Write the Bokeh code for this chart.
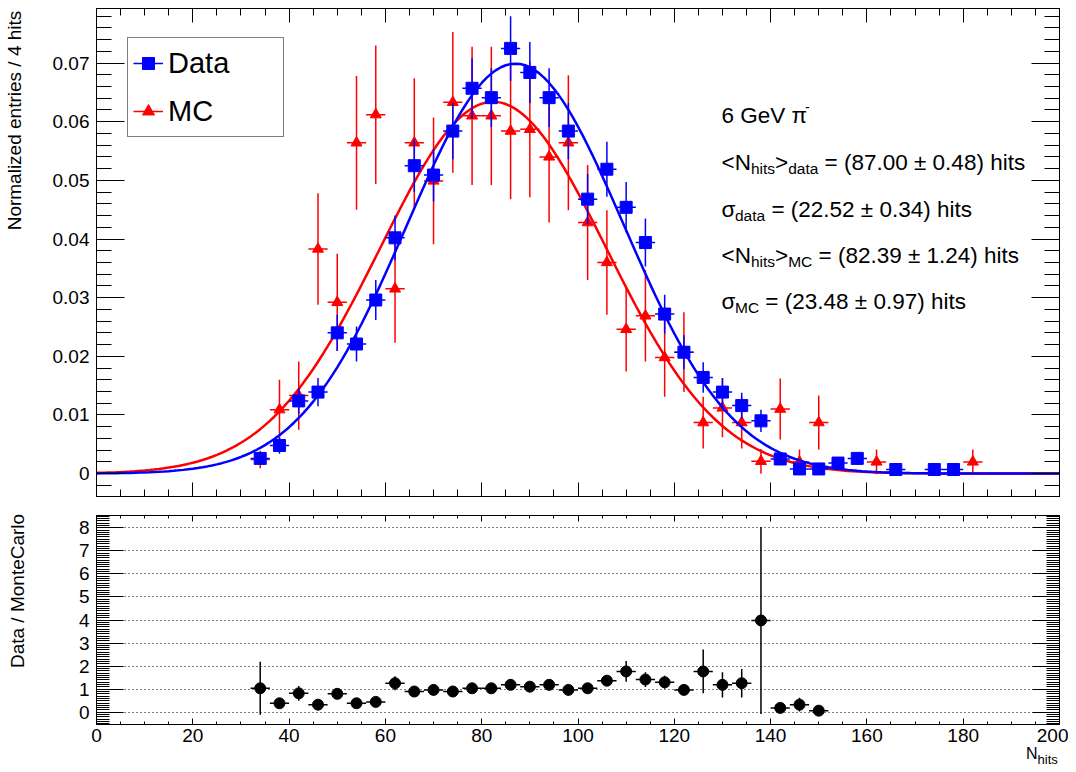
import numpy as np
from bokeh.plotting import figure
from bokeh.layouts import column
from bokeh.models import (Range1d, LinearAxis, SingleIntervalTicker, Label, Legend, Div,
                          LegendItem, ColumnDataSource, CustomJSTickFormatter)
from bokeh.embed import file_html
from bokeh.resources import INLINE

FONT = "Liberation Sans"

# ---------------- data ----------------
data_x = [34, 38, 42, 46, 50, 54, 58, 62, 66, 70, 74, 78, 82, 86, 90, 94, 98, 102, 106, 110,
          114, 118, 122, 126, 130, 134, 138, 142, 146, 150, 154, 158, 166, 174, 178]
data_y = [0.0026, 0.0048, 0.0124, 0.0139, 0.0240, 0.0221, 0.0296, 0.0402, 0.0525, 0.0509,
          0.0584, 0.0657, 0.0641, 0.0725, 0.0684, 0.0641, 0.0584, 0.0468, 0.0519, 0.0454,
          0.0394, 0.0272, 0.0207, 0.0164, 0.0139, 0.0116, 0.0090, 0.0025, 0.0008, 0.0008,
          0.0018, 0.0026, 0.0007, 0.0007, 0.0007]
data_err = [0.0010, 0.0014, 0.0022, 0.0024, 0.0031, 0.0030, 0.0034, 0.0038, 0.0045, 0.0045,
            0.0048, 0.0051, 0.0050, 0.0055, 0.0052, 0.0050, 0.0048, 0.0043, 0.0047, 0.0043,
            0.0041, 0.0033, 0.0029, 0.0026, 0.0024, 0.0022, 0.0019, 0.0010, 0.0006, 0.0006,
            0.0009, 0.0010, 0.0005, 0.0005, 0.0005]

mc_x = [34, 38, 42, 46, 50, 54, 58, 62, 66, 70, 74, 78, 82, 86, 90, 94, 98, 102, 106, 110,
        114, 118, 122, 126, 130, 134, 138, 142, 146, 150, 162, 182]
mc_y = [0.0024, 0.0109, 0.0133, 0.0383, 0.0292, 0.0564, 0.0612, 0.0315, 0.0564, 0.0499,
        0.0633, 0.0610, 0.0610, 0.0584, 0.0587, 0.0540, 0.0564, 0.0428, 0.0360, 0.0246,
        0.0269, 0.0198, 0.0207, 0.0087, 0.0112, 0.0087, 0.0021, 0.0110, 0.0020, 0.0087,
        0.0020, 0.0020]
mc_err = [0.0015, 0.0051, 0.0058, 0.0095, 0.0083, 0.0114, 0.0118, 0.0092, 0.0110, 0.0108,
          0.0120, 0.0118, 0.0118, 0.0116, 0.0116, 0.0112, 0.0115, 0.0098, 0.0089, 0.0072,
          0.0078, 0.0067, 0.0068, 0.0044, 0.0050, 0.0044, 0.0021, 0.0052, 0.0021, 0.0046,
          0.0021, 0.0021]

ratio_x = [34, 38, 42, 46, 50, 54, 58, 62, 66, 70, 74, 78, 82, 86, 90, 94, 98, 102, 106, 110,
           114, 118, 122, 126, 130, 134, 138, 142, 146, 150]
ratio_y = [1.04, 0.39, 0.82, 0.33, 0.80, 0.39, 0.45, 1.26, 0.90, 0.97, 0.90, 1.04, 1.04, 1.19,
           1.11, 1.19, 0.97, 1.04, 1.37, 1.77, 1.42, 1.30, 0.97, 1.77, 1.19, 1.26, 3.98, 0.19,
           0.33, 0.07]
ratio_err = [1.15, 0.12, 0.32, 0.12, 0.22, 0.10, 0.10, 0.30, 0.12, 0.12, 0.10, 0.10, 0.10, 0.12,
             0.12, 0.12, 0.10, 0.12, 0.22, 0.45, 0.32, 0.28, 0.20, 0.95, 0.55, 0.62, 4.05, 0.10,
             0.30, 0.10]

BIN_HALF = 2.0  # bins are 4 hits wide

fit_data = dict(amp=0.0699, mean=87.00, sigma=22.52)
fit_mc = dict(amp=0.0634, mean=82.39, sigma=23.48)

BLUE = "#0000ff"
RED = "#ff0000"
TICK_FONT = "19px"
NBSP = "\u00a0"

# ---------------- helpers ----------------
def err_sources(xs, ys, es):
    xs = np.asarray(xs, float); ys = np.asarray(ys, float); es = np.asarray(es, float)
    v = ColumnDataSource(dict(x0=xs, y0=ys - es, x1=xs, y1=ys + es))
    h = ColumnDataSource(dict(x0=xs - BIN_HALF, y0=ys, x1=xs + BIN_HALF, y1=ys))
    return v, h


BLANK = CustomJSTickFormatter(code="return '';")


def style_axis(ax, tick_in, minor_in, show_labels=True, size=TICK_FONT, standoff=7):
    ax.major_tick_in = tick_in
    ax.major_tick_out = 0
    ax.minor_tick_in = minor_in
    ax.minor_tick_out = 0
    ax.axis_line_color = "black"
    ax.major_tick_line_color = "black"
    ax.minor_tick_line_color = "black"
    ax.major_label_text_font = FONT
    ax.major_label_text_color = "black"
    ax.major_label_text_font_size = size
    if show_labels:
        ax.major_label_standoff = standoff
    else:
        ax.formatter = BLANK
        ax.major_label_standoff = 0


W = {'<': .584, '>': .584, 'N': .722, 'h': .556, 'i': .222, 't': .278, 's': .5, 'd': .556,
     'a': .556, 'M': .833, 'C': .722, '=': .584, ' ': .278, '(': .333, ')': .333, '.': .278,
     '±': .584, 'σ': .6, 'G': .778, 'e': .556, 'V': .667, 'π': .6, '-': .333, 'o': .556,
     'r': .333, 'm': .833, 'l': .222, 'z': .5, 'n': .556, '/': .278, 'D': .722, NBSP: .278}
for dgt in "0123456789":
    W[dgt] = .556


def tw(s, size):
    return sum(W.get(c, .556) for c in s) * size


def add_rich(p, x0, y0, pieces):
    x = x0
    for txt, size, dy in pieces:
        lead = len(txt) - len(txt.lstrip(" "))
        x += tw(" " * lead, size)
        t = txt.strip(" ")
        p.add_layout(Label(x=x, y=y0 + dy, x_units="screen", y_units="screen", text=t,
                           text_font=FONT, text_font_size=f"{size}px", text_color="black",
                           text_baseline="alphabetic", text_align="left"))
        x += tw(t, size)


def top_aligned_title(ax, text, axis_len, top_gap, standoff, size=19):
    # ROOT puts the axis title at the top end of the axis; Bokeh centres it,
    # so pad the start of the text with no-break spaces.
    full = axis_len + 2 * top_gap
    n = max(0, int(round((full - tw(text, size)) / tw(NBSP, size))))
    ax.axis_label = NBSP * n + text
    ax.axis_label_text_font = FONT
    ax.axis_label_text_font_size = f"{size}px"
    ax.axis_label_text_font_style = "normal"
    ax.axis_label_text_color = "black"
    ax.axis_label_standoff = standoff


# ---------------- top panel ----------------
p1 = figure(width=1068, height=506, x_range=Range1d(0, 200), y_range=Range1d(-0.0039, 0.0793),
            output_backend="svg", toolbar_location=None,
            min_border_left=95, min_border_right=9, min_border_top=8, min_border_bottom=10)
p1.background_fill_color = "white"
p1.border_fill_color = "white"
p1.outline_line_color = "black"
p1.outline_line_width = 1
p1.xgrid.visible = False
p1.ygrid.visible = False

xt = lambda: SingleIntervalTicker(interval=20, num_minor_ticks=4)
yt1 = lambda: SingleIntervalTicker(interval=0.01, num_minor_ticks=5)
yfmt = CustomJSTickFormatter(code="return Math.abs(tick) < 1e-9 ? '0' : tick.toFixed(2);")

p1.xaxis.ticker = xt()
style_axis(p1.xaxis[0], 14, 7, show_labels=False)
p1.yaxis.ticker = yt1()
p1.yaxis.formatter = yfmt
style_axis(p1.yaxis[0], 28, 15)
top_aligned_title(p1.yaxis[0], "Normalized entries / 4 hits", 488, -1, 25)
ax_r = LinearAxis(ticker=yt1())
style_axis(ax_r, 28, 15, show_labels=False)
p1.add_layout(ax_r, "right")
ax_t = LinearAxis(ticker=xt())
style_axis(ax_t, 14, 7, show_labels=False)
p1.add_layout(ax_t, "above")

# fit curves
xf = np.linspace(0, 200, 201)
yf_data = fit_data["amp"] * np.exp(-0.5 * ((xf - fit_data["mean"]) / fit_data["sigma"]) ** 2)
yf_mc = fit_mc["amp"] * np.exp(-0.5 * ((xf - fit_mc["mean"]) / fit_mc["sigma"]) ** 2)

# MC (red)
mv, mh = err_sources(mc_x, mc_y, mc_err)
p1.segment("x0", "y0", "x1", "y1", source=mv, line_color=RED, line_width=1.5)
mc_h = p1.segment("x0", "y0", "x1", "y1", source=mh, line_color=RED, line_width=1.5)
mc_pts = p1.scatter(mc_x, mc_y, marker="triangle", size=11, fill_color=RED, line_color=RED)
p1.line(xf, yf_mc, line_color=RED, line_width=2.5)

# Data (blue)
dv, dh = err_sources(data_x, data_y, data_err)
p1.segment("x0", "y0", "x1", "y1", source=dv, line_color=BLUE, line_width=1.5)
d_h = p1.segment("x0", "y0", "x1", "y1", source=dh, line_color=BLUE, line_width=1.5)
d_pts = p1.scatter(data_x, data_y, marker="square", size=12, fill_color=BLUE, line_color=BLUE)
p1.line(xf, yf_data, line_color=BLUE, line_width=2.5)

legend = Legend(items=[LegendItem(label="Data", renderers=[d_h, d_pts]),
                       LegendItem(label="MC", renderers=[mc_h, mc_pts])],
                location=(31, 359), orientation="vertical", margin=0, padding=5, spacing=8,
                glyph_width=30, glyph_height=40, label_height=40, label_width=110,
                label_standoff=5, label_text_font=FONT, label_text_font_size="29px",
                label_text_baseline="middle", label_text_color="black",
                border_line_color="black", border_line_width=1,
                background_fill_color="white", background_fill_alpha=1.0)
p1.add_layout(legend)

# fit annotations
TX = 625
MAIN, SUB = 22.5, 15.5
add_rich(p1, TX, 381.5, [("6 GeV π", MAIN, 0), ("-", 14, 8)])
add_rich(p1, TX, 334, [("<N", MAIN, 0), ("hits", SUB, -6), (">", MAIN, 0), ("data", SUB, -6),
                       (" = (87.00 ± 0.48) hits", MAIN, 0)])
add_rich(p1, TX, 287, [("σ", MAIN, 0), ("data", SUB, -6), (" = (22.52 ± 0.34) hits", MAIN, 0)])
add_rich(p1, TX, 241.5, [("<N", MAIN, 0), ("hits", SUB, -6), (">", MAIN, 0), ("MC", SUB, -6),
                         (" = (82.39 ± 1.24) hits", MAIN, 0)])
add_rich(p1, TX, 195.5, [("σ", MAIN, 0), ("MC", SUB, -6), (" = (23.48 ± 0.97) hits", MAIN, 0)])

# ---------------- ratio panel ----------------
p2 = figure(width=1068, height=240, x_range=p1.x_range, y_range=Range1d(-0.53, 8.53),
            output_backend="svg", toolbar_location=None,
            min_border_left=95, min_border_right=9, min_border_top=9, min_border_bottom=22)
p2.background_fill_color = "white"
p2.border_fill_color = "white"
p2.outline_line_color = "black"
p2.outline_line_width = 1

yt2 = lambda: SingleIntervalTicker(interval=1, num_minor_ticks=10)
p2.xaxis.ticker = xt()
style_axis(p2.xaxis[0], 6, 3, standoff=4)
p2.yaxis.ticker = yt2()
style_axis(p2.yaxis[0], 27, 13)
top_aligned_title(p2.yaxis[0], "Data / MonteCarlo", 209, 2, 48)
ax_r2 = LinearAxis(ticker=yt2())
style_axis(ax_r2, 27, 13, show_labels=False)
p2.add_layout(ax_r2, "right")
ax_t2 = LinearAxis(ticker=xt())
style_axis(ax_t2, 6, 3, show_labels=False)
p2.add_layout(ax_t2, "above")

p2.xgrid.visible = False
p2.ygrid.ticker = yt2()
p2.ygrid.grid_line_color = "black"
p2.ygrid.grid_line_width = 1
p2.ygrid.grid_line_dash = "1 3"

rv, rh = err_sources(ratio_x, ratio_y, ratio_err)
p2.segment("x0", "y0", "x1", "y1", source=rv, line_color="black", line_width=1.5)
p2.segment("x0", "y0", "x1", "y1", source=rh, line_color="black", line_width=1.5)
p2.scatter(ratio_x, ratio_y, marker="circle", size=11, fill_color="black", line_color="black")

# ---------------- x-axis title (N_hits with subscript) ----------------
xtitle = Div(
    text=("<div style=\"font-family:'Liberation Sans'; font-size:16px; line-height:16px; "
          "margin-left:1026px; color:#000; white-space:nowrap;\">N"
          "<span style=\"font-size:13px; position:relative; top:5px;\">hits</span></div>"),
    width=1068, height=24, margin=(0, 0, 0, 0))

layout = column(p1, p2, xtitle)
open("out.html", "w").write(file_html(layout, INLINE))
